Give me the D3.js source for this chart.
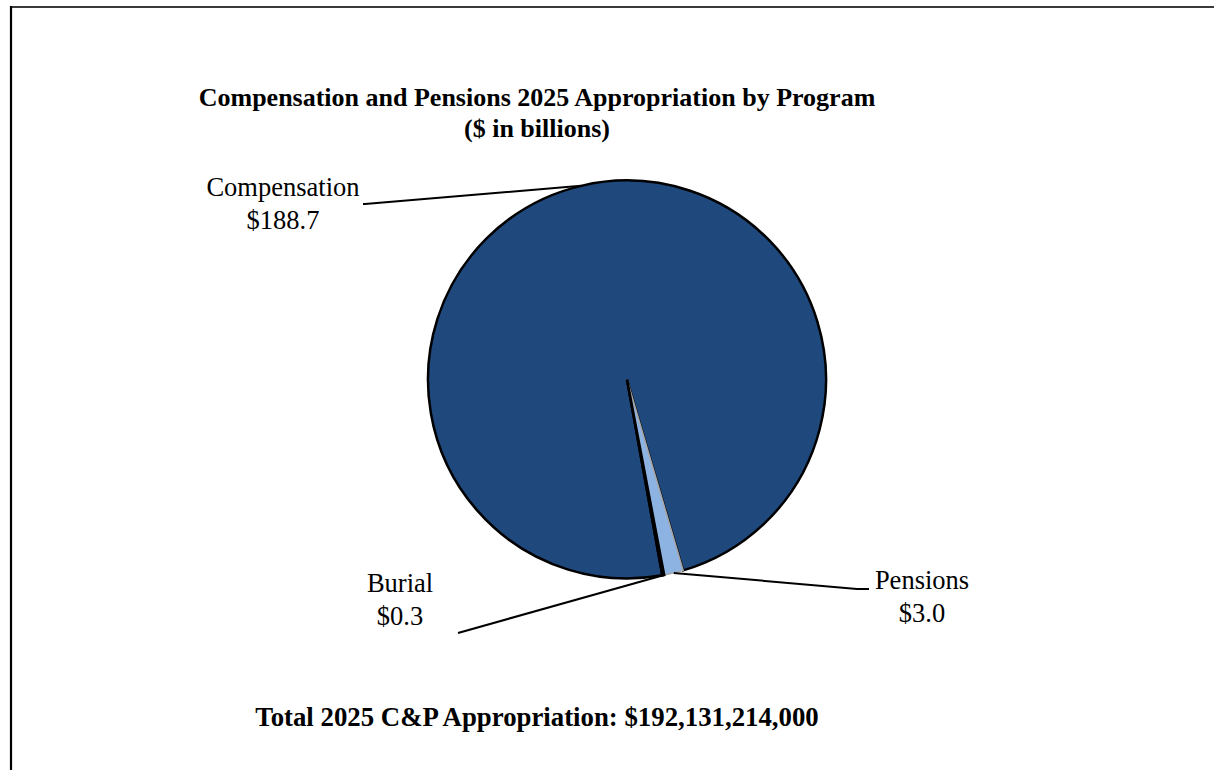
<!DOCTYPE html>
<html>
<head>
<meta charset="utf-8">
<script src="https://cdn.jsdelivr.net/npm/d3@7"></script>
<style>
  html, body { margin: 0; padding: 0; background: #fff; }
  svg { display: block; }
  text { font-family: "Liberation Serif", "Times New Roman", serif; fill: #000; }
</style>
</head>
<body>
<svg id="chart" width="1214" height="770"></svg>
<script>
// Program appropriations, $ in billions (drawn clockwise in this order)
const programs = ["Pensions", "Burial", "Compensation"];
const amounts = [3.0, 0.3, 188.7];
const amountLabels = ["$3.0", "$0.3", "$188.7"];
const titleLines = ["Compensation and Pensions 2025 Appropriation by Program", "($ in billions)"];
const footerText = "Total 2025 C&P Appropriation: $192,131,214,000";

const fills = { Pensions: "#8DB3E2", Burial: "#000000", Compensation: "#1F497D" };
const strokes = { Pensions: "#A6A6A6", Burial: "#000000", Compensation: "#000000" };

const svg = d3.select("#chart");
const W = 1214, H = 770;

// Frame
svg.append("line").attr("x1", 10).attr("x2", W).attr("y1", 7).attr("y2", 7)
  .attr("stroke", "#3a3a3a").attr("stroke-width", 2);
svg.append("line").attr("x1", 11).attr("x2", 11).attr("y1", 6).attr("y2", H)
  .attr("stroke", "#000").attr("stroke-width", 2.2);

// Title
const title = svg.append("text").attr("text-anchor", "middle")
  .attr("font-weight", "bold").attr("font-size", 26);
titleLines.forEach((t, i) => {
  title.append("tspan").attr("x", 537).attr("y", 106 + i * 31).text(t);
});

// Pie
const cx = 627, cy = 379.5, R = 199;
const startDeg = 163.6;
const pie = d3.pie().sort(null).value(d => d.value)
  .startAngle(startDeg * Math.PI / 180)
  .endAngle((startDeg + 360) * Math.PI / 180);
const data = programs.map((p, i) => ({ name: p, value: amounts[i], label: amountLabels[i] }));
const arcs = pie(data);
const arc = d3.arc().innerRadius(0).outerRadius(R);
const edge = d3.arc().innerRadius(R).outerRadius(R);

const g = svg.append("g").attr("transform", `translate(${cx},${cy})`);
// Draw the large slice first so the thin slices sit on top
const drawOrder = [2, 0, 1];
drawOrder.forEach(i => {
  const a = arcs[i];
  g.append("path").attr("d", arc(a))
    .attr("fill", fills[a.data.name])
    .attr("stroke", strokes[a.data.name])
    .attr("stroke-width", a.data.name === "Pensions" ? 1.5 : 2.5)
    .attr("stroke-linejoin", "miter");
});

// Leader lines and labels
const labelSpec = {
  Compensation: { end: [365, 204], tx: 283, ty: 196 },
  Pensions: { end: [857, 589], hook: [869, 589], tx: 922, ty: 589 },
  Burial: { end: [458, 633], tx: 400, ty: 592 }
};
arcs.forEach(a => {
  const spec = labelSpec[a.data.name];
  const [ex, ey] = edge.centroid(a);
  const pts = [[cx + ex, cy + ey], spec.end];
  if (spec.hook) pts.push(spec.hook);
  if (a.data.name === "Compensation") pts.push([spec.end[0] - 2, spec.end[1]]);
  svg.append("path").attr("d", d3.line()(pts))
    .attr("fill", "none").attr("stroke", "#000").attr("stroke-width", 2);
  const t = svg.append("text").attr("text-anchor", "middle").attr("font-size", 26.5);
  t.append("tspan").attr("x", spec.tx).attr("y", spec.ty).text(a.data.name);
  t.append("tspan").attr("x", spec.tx).attr("y", spec.ty + 33).text(a.data.label);
});

// Footer total
svg.append("text").attr("x", 537).attr("y", 726).attr("text-anchor", "middle")
  .attr("font-weight", "bold").attr("font-size", 26.8).text(footerText);
</script>
</body>
</html>
